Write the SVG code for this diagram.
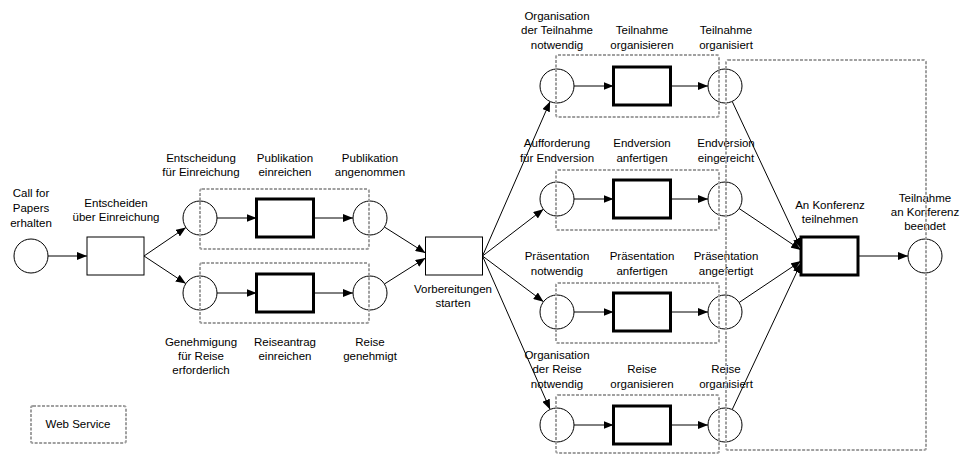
<svg xmlns="http://www.w3.org/2000/svg" width="960" height="455" viewBox="0 0 960 455">
<defs>
<style>
text{font-family:"Liberation Sans",Arial,sans-serif;font-size:11.5px;fill:#000;text-anchor:middle}
.pl{fill:#fff;stroke:#000;stroke-width:1}
.tr{fill:#fff;stroke:#000;stroke-width:1}
.tb{fill:#fff;stroke:#000;stroke-width:3}
.ws{fill:none;stroke:#a0a0a0;stroke-width:2;stroke-dasharray:3 1.5}
.c{fill:none;stroke:#000;stroke-width:1;marker-end:url(#ah)}
</style>
<marker id="ah" viewBox="0 0 10 8" refX="10" refY="4" markerWidth="10" markerHeight="8" markerUnits="userSpaceOnUse" orient="auto">
<path d="M0,0 L10,4 L0,8 z" fill="#000"/>
</marker>
</defs>
<rect width="960" height="455" fill="#fff"/>

<g id="connectors">
<line class="c" x1="48" y1="256" x2="87" y2="256"/>
<line class="c" x1="144" y1="256" x2="185.9" y2="227.5"/>
<line class="c" x1="144" y1="256" x2="185.8" y2="283.6"/>
<line class="c" x1="217" y1="218" x2="256.5" y2="218"/>
<line class="c" x1="313.5" y1="218" x2="353" y2="218"/>
<line class="c" x1="217" y1="293" x2="256.5" y2="293"/>
<line class="c" x1="313.5" y1="293" x2="353" y2="293"/>
<line class="c" x1="384.4" y1="227" x2="425.5" y2="253"/>
<line class="c" x1="384.4" y1="284" x2="425.5" y2="258"/>
<line class="c" x1="482.5" y1="256" x2="550.1" y2="101.5"/>
<line class="c" x1="482.5" y1="256" x2="543.4" y2="209.2"/>
<line class="c" x1="482.5" y1="256" x2="543.5" y2="301.7"/>
<line class="c" x1="482.5" y1="256" x2="550.1" y2="409.4"/>
<line class="c" x1="574" y1="86" x2="613.5" y2="86"/>
<line class="c" x1="670.5" y1="86" x2="708" y2="86"/>
<line class="c" x1="574" y1="199" x2="613.5" y2="199"/>
<line class="c" x1="670.5" y1="199" x2="708" y2="199"/>
<line class="c" x1="574" y1="312" x2="613.5" y2="312"/>
<line class="c" x1="670.5" y1="312" x2="708" y2="312"/>
<line class="c" x1="574" y1="425" x2="613.5" y2="425"/>
<line class="c" x1="670.5" y1="425" x2="708" y2="425"/>
<line class="c" x1="732.2" y1="101.4" x2="801" y2="248"/>
<line class="c" x1="739.1" y1="208.5" x2="801" y2="250"/>
<line class="c" x1="739.1" y1="302.5" x2="801" y2="261"/>
<line class="c" x1="732.2" y1="409.6" x2="801" y2="263"/>
<line class="c" x1="858" y1="256" x2="908" y2="256"/>
</g>

<g id="p-call">
<circle class="pl" cx="31" cy="256" r="17"/>
<text x="31" y="197">Call for</text><text x="31" y="212">Papers</text><text x="31" y="227">erhalten</text>
</g>
<g id="t-entscheiden">
<rect class="tr" x="87" y="237" width="57" height="38"/>
<text x="116" y="207">Entscheiden</text><text x="116" y="221">über Einreichung</text>
</g>
<g id="p-entscheidung">
<circle class="pl" cx="200" cy="218" r="17"/>
<text x="201" y="162">Entscheidung</text><text x="201" y="176">für Einreichung</text>
</g>
<g id="t-publikation">
<rect class="tb" x="256.5" y="199" width="57" height="38"/>
<text x="285" y="162">Publikation</text><text x="285" y="176">einreichen</text>
</g>
<g id="p-publikation">
<circle class="pl" cx="370" cy="218" r="17"/>
<text x="370" y="162">Publikation</text><text x="370" y="176">angenommen</text>
</g>
<g id="p-genehmigung">
<circle class="pl" cx="200" cy="293" r="17"/>
<text x="201" y="346">Genehmigung</text><text x="201" y="360">für Reise</text><text x="201" y="374">erforderlich</text>
</g>
<g id="t-reiseantrag">
<rect class="tb" x="256.5" y="274" width="57" height="38"/>
<text x="285" y="346">Reiseantrag</text><text x="285" y="360">einreichen</text>
</g>
<g id="p-reise-genehmigt">
<circle class="pl" cx="370" cy="293" r="17"/>
<text x="370" y="346">Reise</text><text x="370" y="360">genehmigt</text>
</g>
<g id="t-vorbereitungen">
<rect class="tr" x="425.5" y="237" width="57" height="38"/>
<text x="453" y="293">Vorbereitungen</text><text x="453" y="307">starten</text>
</g>

<g id="p-org-teilnahme">
<circle class="pl" cx="557" cy="86" r="17"/>
<text x="557" y="19.5">Organisation</text><text x="557" y="34">der Teilnahme</text><text x="557" y="48.5">notwendig</text>
</g>
<g id="t-teilnahme-org">
<rect class="tb" x="613.5" y="67" width="57" height="38"/>
<text x="642" y="34">Teilnahme</text><text x="642" y="48.5">organisieren</text>
</g>
<g id="p-teilnahme-organisiert">
<circle class="pl" cx="725" cy="86" r="17"/>
<text x="726" y="34">Teilnahme</text><text x="726" y="48.5">organisiert</text>
</g>

<g id="p-aufforderung">
<circle class="pl" cx="557" cy="199" r="17"/>
<text x="557" y="147">Aufforderung</text><text x="557" y="161.5">für Endversion</text>
</g>
<g id="t-endversion">
<rect class="tb" x="613.5" y="180" width="57" height="38"/>
<text x="642" y="147">Endversion</text><text x="642" y="161.5">anfertigen</text>
</g>
<g id="p-endversion">
<circle class="pl" cx="725" cy="199" r="17"/>
<text x="726" y="147">Endversion</text><text x="726" y="161.5">eingereicht</text>
</g>

<g id="p-praes-notwendig">
<circle class="pl" cx="557" cy="312" r="17"/>
<text x="557" y="260">Präsentation</text><text x="557" y="274.5">notwendig</text>
</g>
<g id="t-praes">
<rect class="tb" x="613.5" y="293" width="57" height="38"/>
<text x="642" y="260">Präsentation</text><text x="642" y="274.5">anfertigen</text>
</g>
<g id="p-praes-angefertigt">
<circle class="pl" cx="725" cy="312" r="17"/>
<text x="726" y="260">Präsentation</text><text x="726" y="274.5">angefertigt</text>
</g>

<g id="p-org-reise">
<circle class="pl" cx="557" cy="425" r="17"/>
<text x="557" y="358.5">Organisation</text><text x="557" y="373">der Reise</text><text x="557" y="387.5">notwendig</text>
</g>
<g id="t-reise-org">
<rect class="tb" x="613.5" y="406" width="57" height="38"/>
<text x="642" y="373">Reise</text><text x="642" y="387.5">organisieren</text>
</g>
<g id="p-reise-organisiert">
<circle class="pl" cx="725" cy="425" r="17"/>
<text x="726" y="373">Reise</text><text x="726" y="387.5">organisiert</text>
</g>

<g id="t-konferenz">
<rect class="tb" x="801" y="237" width="57" height="38"/>
<text x="830" y="209">An Konferenz</text><text x="830" y="223">teilnehmen</text>
</g>
<g id="p-beendet">
<circle class="pl" cx="925" cy="256" r="17"/>
<text x="925" y="202">Teilnahme</text><text x="925" y="216">an Konferenz</text><text x="925" y="230">beendet</text>
</g>

<g id="web-services">
<rect class="ws" x="200" y="189" width="169" height="60" rx="2"/>
<rect class="ws" x="200" y="263" width="169" height="60" rx="2"/>
<rect class="ws" x="556" y="55" width="163" height="62" rx="2"/>
<rect class="ws" x="556" y="170" width="163" height="60" rx="2"/>
<rect class="ws" x="556" y="283" width="163" height="60" rx="2"/>
<rect class="ws" x="556" y="395" width="163" height="58" rx="2"/>
<rect class="ws" x="726" y="60" width="200" height="390" rx="2"/>
</g>

<g id="legend">
<rect class="ws" x="31" y="406" width="95" height="37" rx="2"/>
<text x="78" y="428">Web Service</text>
</g>
</svg>
